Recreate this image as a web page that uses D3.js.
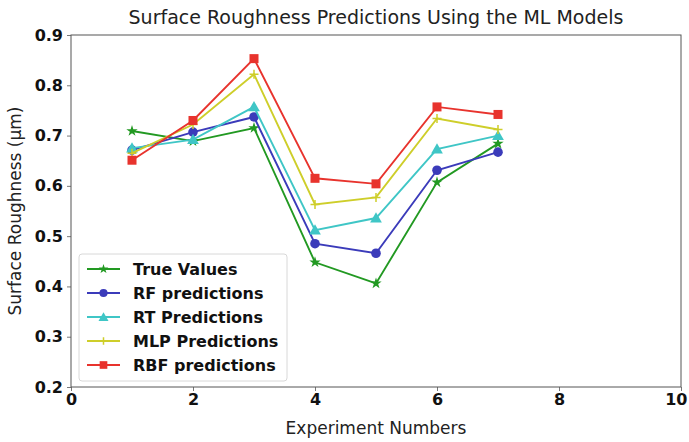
<!DOCTYPE html>
<html>
<head>
<meta charset="utf-8">
<script src="https://cdn.jsdelivr.net/npm/d3@7"></script>
<style>
  body { margin: 0; background: #fff; }
  svg { display: block; font-family: "DejaVu Sans", sans-serif; }
</style>
</head>
<body>
<svg id="chart" width="689" height="442"></svg>
<script>
// Experiment numbers and surface roughness (µm) per model
const experiments = [1, 2, 3, 4, 5, 6, 7];
const trueValues = [0.709, 0.689, 0.715, 0.448, 0.406, 0.607, 0.684];
const rfPred     = [0.671, 0.707, 0.737, 0.485, 0.466, 0.631, 0.667];
const rtPred     = [0.675, 0.692, 0.757, 0.512, 0.536, 0.673, 0.700];
const mlpPred    = [0.665, 0.722, 0.822, 0.563, 0.577, 0.734, 0.712];
const rbfPred    = [0.651, 0.730, 0.853, 0.615, 0.604, 0.757, 0.742];

const xTicks = [0, 2, 4, 6, 8, 10];
const yTicks = [0.2, 0.3, 0.4, 0.5, 0.6, 0.7, 0.8, 0.9];

const seriesList = [
  { name: "True Values",     values: trueValues, color: "#229922", marker: "star" },
  { name: "RF predictions",  values: rfPred,     color: "#3b3bba", marker: "circle" },
  { name: "RT Predictions",  values: rtPred,     color: "#3fc6c6", marker: "triangle" },
  { name: "MLP Predictions", values: mlpPred,    color: "#cece2a", marker: "plus" },
  { name: "RBF predictions", values: rbfPred,    color: "#e8332d", marker: "square" }
];

const svg = d3.select("#chart");
const m = { left: 71, right: 8, top: 35, bottom: 55 };
const W = 689, H = 442;

const x = d3.scaleLinear().domain([0, 10]).range([m.left, W - m.right]);
const y = d3.scaleLinear().domain([0.2, 0.9]).range([H - m.bottom, m.top]);

// Axes
const xAxis = d3.axisBottom(x).tickValues(xTicks).tickFormat(d3.format("d")).tickSize(4).tickPadding(3);
const yAxis = d3.axisLeft(y).tickValues(yTicks).tickFormat(d3.format(".1f")).tickSize(4).tickPadding(4);

const gx = svg.append("g").attr("transform", `translate(0,${H - m.bottom})`).call(xAxis);
const gy = svg.append("g").attr("transform", `translate(${m.left},0)`).call(yAxis);
[gx, gy].forEach(g => {
  g.select(".domain").remove();
  g.selectAll(".tick line").attr("stroke", "#555").attr("stroke-width", 0.8);
  g.selectAll(".tick text")
    .attr("fill", "#111")
    .style("font-size", "16px")
    .style("font-weight", "bold")
    .style("font-family", "DejaVu Sans, sans-serif");
});
// keep the last x tick label inside the canvas
gx.selectAll(".tick text").filter(d => d === 10)
  .attr("text-anchor", "end").attr("dx", W - 2 - x(10));

// Plot frame
svg.append("rect")
  .attr("x", x(0)).attr("y", y(0.9))
  .attr("width", x(10) - x(0)).attr("height", y(0.2) - y(0.9))
  .attr("fill", "none").attr("stroke", "#555").attr("stroke-width", 1);

// Title and axis labels
svg.append("text")
  .attr("x", (x(0) + x(10)) / 2).attr("y", 24)
  .attr("text-anchor", "middle")
  .style("font-size", "19px").attr("fill", "#222")
  .text("Surface Roughness Predictions Using the ML Models");

svg.append("text")
  .attr("x", (x(0) + x(10)) / 2).attr("y", 434)
  .attr("text-anchor", "middle")
  .style("font-size", "17px").attr("fill", "#222")
  .text("Experiment Numbers");

svg.append("text")
  .attr("transform", `translate(21,${(y(0.2) + y(0.9)) / 2}) rotate(-90)`)
  .attr("text-anchor", "middle")
  .style("font-size", "17px").attr("fill", "#222")
  .text("Surface Roughness (µm)");

// Marker drawing
function drawMarker(g, type, color, cx, cy, scale) {
  const s = scale || 1;
  if (type === "circle") {
    g.append("circle").attr("cx", cx).attr("cy", cy).attr("r", 4.8 * s).attr("fill", color);
  } else if (type === "square") {
    const a = 9 * s;
    g.append("rect").attr("x", cx - a / 2).attr("y", cy - a / 2).attr("width", a).attr("height", a).attr("fill", color);
  } else if (type === "triangle") {
    g.append("path").attr("d", d3.symbol(d3.symbolTriangle, 60 * s * s)()).attr("transform", `translate(${cx},${cy + 1})`).attr("fill", color);
  } else if (type === "star") {
    g.append("path").attr("d", d3.symbol(d3.symbolStar, 40 * s * s)()).attr("transform", `translate(${cx},${cy})`).attr("fill", color);
  } else if (type === "plus") {
    const r = 4.5 * s;
    g.append("path").attr("d", `M${cx - r},${cy}H${cx + r}M${cx},${cy - r}V${cy + r}`)
      .attr("stroke", color).attr("stroke-width", 1.5).attr("fill", "none");
  }
}

const line = d3.line().x((d, i) => x(experiments[i])).y(d => y(d));

seriesList.forEach(s => {
  const g = svg.append("g");
  g.append("path").datum(s.values).attr("d", line)
    .attr("fill", "none").attr("stroke", s.color).attr("stroke-width", 1.9);
  s.values.forEach((v, i) => drawMarker(g, s.marker, s.color, x(experiments[i]), y(v)));
});

// Legend
const lg = svg.append("g").attr("transform", "translate(79,254)");
lg.append("rect").attr("x", 0).attr("y", 0).attr("width", 208).attr("height", 127)
  .attr("rx", 3).attr("fill", "#fff").attr("fill-opacity", 0.85)
  .attr("stroke", "#d8d8d8").attr("stroke-width", 1);
seriesList.forEach((s, i) => {
  const cy = 15 + i * 24;
  lg.append("line").attr("x1", 8).attr("x2", 41).attr("y1", cy).attr("y2", cy)
    .attr("stroke", s.color).attr("stroke-width", 1.9);
  drawMarker(lg, s.marker, s.color, 24.5, cy, 0.85);
  lg.append("text").attr("x", 54).attr("y", cy + 6)
    .style("font-size", "16px").style("font-weight", "bold").attr("fill", "#111")
    .text(s.name);
});
</script>
</body>
</html>
